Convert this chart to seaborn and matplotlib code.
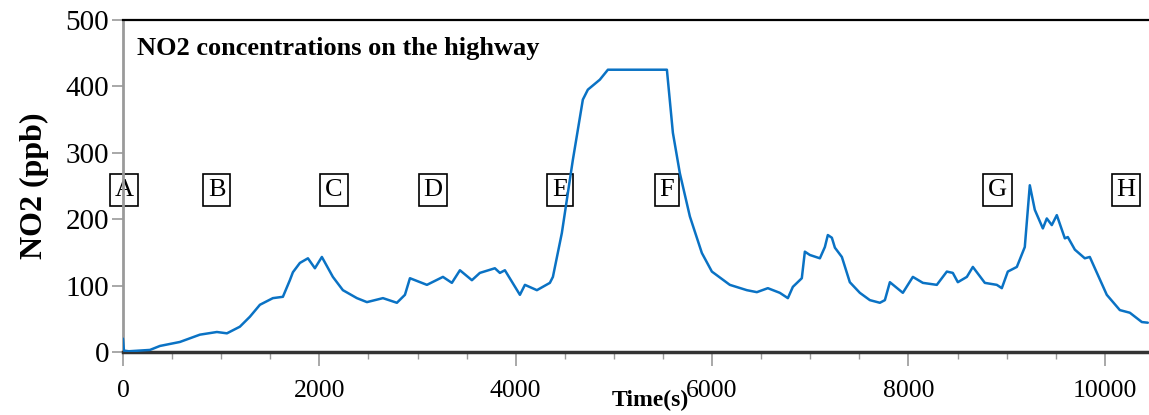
import matplotlib
matplotlib.use("Agg")
import matplotlib.pyplot as plt
from matplotlib.ticker import MultipleLocator
import seaborn as sns
import pandas as pd

# NO2 trace
time_s = [0, 10, 60, 275, 377, 580, 784, 957, 1059, 1191, 1293, 1395, 1527, 1629,
          1700, 1731, 1802, 1884, 1955, 2026, 2138, 2240, 2383, 2485, 2648, 2790,
          2872, 2923, 3096, 3259, 3350, 3432, 3554, 3635, 3788, 3839, 3890, 4043,
          4094, 4216, 4348, 4379, 4470, 4582, 4684, 4735, 4857, 4939, 5540, 5601,
          5672, 5774, 5896, 5998, 6181, 6354, 6456, 6568, 6690, 6772, 6823, 6914,
          6945, 6996, 7098, 7149, 7179, 7220, 7251, 7322, 7403, 7505, 7607, 7709,
          7760, 7811, 7943, 8045, 8147, 8289, 8391, 8452, 8503, 8595, 8656, 8778,
          8900, 8951, 9012, 9104, 9185, 9236, 9287, 9369, 9409, 9460, 9511, 9593,
          9623, 9695, 9796, 9847, 10020, 10153, 10255, 10377, 10438]
no2_ppb = [20, 2, 1, 3, 9, 15, 26, 30, 28, 38, 53, 71, 81, 83,
           108, 120, 134, 141, 126, 143, 113, 93, 81, 75, 81, 74,
           86, 111, 101, 113, 104, 123, 108, 119, 126, 119, 123, 86,
           101, 93, 104, 113, 179, 289, 380, 395, 410, 425, 425, 330,
           269, 204, 149, 121, 101, 93, 90, 96, 89, 81, 98, 111,
           151, 146, 141, 158, 176, 172, 157, 143, 105, 89, 78, 74,
           78, 105, 89, 113, 104, 101, 121, 119, 105, 113, 128, 104,
           101, 96, 121, 128, 158, 251, 214, 186, 201, 191, 206, 171,
           173, 154, 141, 143, 86, 63, 59, 45, 44]

# location markers along the route
marker_labels = ["A", "B", "C", "D", "E", "F", "G", "H"]
marker_times = [10, 957, 2150, 3157, 4450, 5540, 8910, 10214]
marker_level = 244

df = pd.DataFrame({"Time(s)": time_s, "NO2 (ppb)": no2_ppb})

sns.set_style("white")
plt.rcParams["font.family"] = ["Liberation Serif", "DejaVu Serif"]
plt.rcParams["text.color"] = "black"
plt.rcParams["axes.labelcolor"] = "black"
plt.rcParams["xtick.labelcolor"] = "black"
plt.rcParams["ytick.labelcolor"] = "black"

fig = plt.figure(figsize=(11.49, 4.15), dpi=100)
ax = fig.add_axes([0.107, 0.152, 0.893, 0.8])

sns.lineplot(data=df, x="Time(s)", y="NO2 (ppb)", ax=ax, color="#0a72c4",
             linewidth=1.8, zorder=3)

for lab, t in zip(marker_labels, marker_times):
    ax.text(t, marker_level, lab, fontsize=19, ha="center", va="center", zorder=2,
            bbox=dict(boxstyle="square,pad=0.18", fc="none", ec="black", lw=1.2))

ax.text(0.014, 0.915, "NO2 concentrations on the highway", transform=ax.transAxes,
        fontsize=19, fontweight="bold", ha="left", va="center")

ax.set_xlim(0, 10450)
ax.set_ylim(0, 500)
ax.xaxis.set_major_locator(MultipleLocator(2000))
ax.xaxis.set_minor_locator(MultipleLocator(500))
ax.yaxis.set_major_locator(MultipleLocator(100))

ax.tick_params(axis="y", which="major", direction="out", length=8, width=1.2,
               color="#9a9a9a", labelsize=21, pad=2, left=True)
ax.tick_params(axis="x", which="major", direction="out", length=10, width=1.2,
               color="#9a9a9a", labelsize=18.5, pad=10, bottom=True)
ax.tick_params(axis="x", which="minor", direction="out", length=5, width=1.0,
               color="#9a9a9a", bottom=True)

ax.set_xlabel("Time(s)", fontsize=17, fontweight="bold")
ax.xaxis.set_label_coords(0.514, -0.115)
ax.set_ylabel("NO2 (ppb)", fontsize=23, fontweight="bold", labelpad=12)

ax.spines["right"].set_visible(False)
ax.spines["top"].set_color("black")
ax.spines["top"].set_linewidth(1.6)
ax.spines["bottom"].set_color("#333333")
ax.spines["bottom"].set_linewidth(2.5)
ax.spines["left"].set_color("#9a9a9a")
ax.spines["left"].set_linewidth(2)

fig.savefig("out.png", dpi=100)
